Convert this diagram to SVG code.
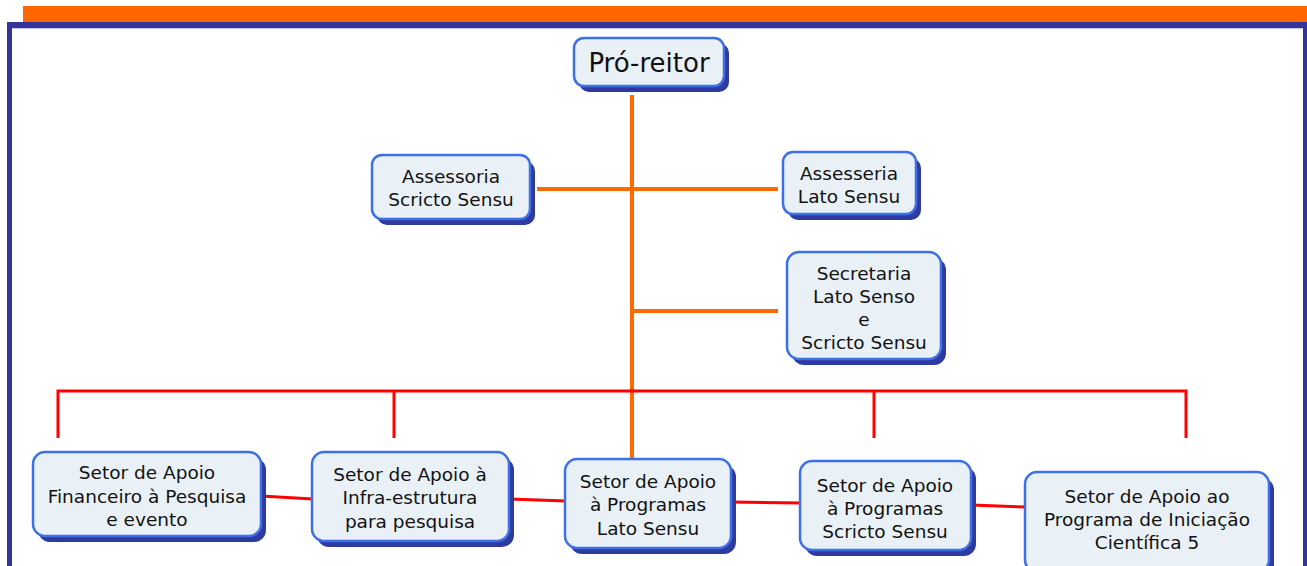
<svg xmlns="http://www.w3.org/2000/svg" width="1307" height="566" viewBox="0 0 1307 566">
<style>
.box{fill:#eaf1f6;stroke:#3d6fe6;stroke-width:2.5}
.sh{fill:#2f3a9f}
.t{font-family:"DejaVu Sans",Verdana,sans-serif;font-size:18.5px;fill:#111;text-anchor:middle;dominant-baseline:central}
.or{stroke:#ff6a00;stroke-width:4;fill:none}
.rd{stroke:#ff0000;stroke-width:3;fill:none}
</style>
<rect width="1307" height="566" fill="#ffffff"/>
<rect x="23" y="6" width="1284" height="16" fill="#ff6600"/>
<rect x="7" y="22" width="1300" height="6" fill="#35349a"/>
<rect x="7" y="22" width="5" height="544" fill="#35349a"/>
<rect x="1303" y="22" width="4" height="544" fill="#35349a"/>
<line x1="12" y1="28.5" x2="1303" y2="28.5" stroke="#c6c6e6" stroke-width="1"/>
<g id="connectors">
<line class="or" x1="632" y1="95" x2="632" y2="458"/>
<line class="or" x1="537" y1="189" x2="778" y2="189"/>
<line class="or" x1="632" y1="311" x2="778" y2="311"/>
<polyline class="rd" points="58,438 58,391 1186,391 1186,438"/>
<line class="rd" x1="394" y1="391" x2="394" y2="438"/>
<line class="rd" x1="874" y1="391" x2="874" y2="438"/>
<line class="rd" x1="261" y1="496" x2="313" y2="499"/>
<line class="rd" x1="509" y1="499" x2="566" y2="501"/>
<line class="rd" x1="731" y1="502" x2="801" y2="503"/>
<line class="rd" x1="971" y1="505" x2="1026" y2="507"/>
</g>
<g id="n-proreitor">
<rect class="sh" x="579" y="43" width="150" height="49" rx="10"/>
<rect class="box" x="574" y="38" width="150" height="48" rx="10"/>
<text class="t" x="649" y="63" style="font-size:26px">Pró-reitor</text>
</g>
<g id="n-assessoria-scricto">
<rect class="sh" x="377" y="161" width="158" height="64" rx="10"/>
<rect class="box" x="372" y="155" width="158" height="64" rx="10"/>
<text class="t" x="451" y="176">Assessoria</text>
<text class="t" x="451" y="199">Scricto Sensu</text>
</g>
<g id="n-assesseria-lato">
<rect class="sh" x="788" y="158" width="133" height="62" rx="10"/>
<rect class="box" x="783" y="152" width="133" height="62" rx="10"/>
<text class="t" x="849" y="173">Assesseria</text>
<text class="t" x="849" y="196">Lato Sensu</text>
</g>
<g id="n-secretaria">
<rect class="sh" x="792" y="258" width="154" height="107" rx="12"/>
<rect class="box" x="787" y="252" width="154" height="107" rx="12"/>
<text class="t" x="864" y="273">Secretaria</text>
<text class="t" x="864" y="296">Lato Senso</text>
<text class="t" x="864" y="319">e</text>
<text class="t" x="864" y="342">Scricto Sensu</text>
</g>
<g id="n-financeiro">
<rect class="sh" x="38" y="458" width="228" height="84" rx="12"/>
<rect class="box" x="33" y="452" width="228" height="84" rx="12"/>
<text class="t" x="147" y="472">Setor de Apoio</text>
<text class="t" x="147" y="496">Financeiro à Pesquisa</text>
<text class="t" x="147" y="519">e evento</text>
</g>
<g id="n-infra">
<rect class="sh" x="317" y="458" width="197" height="89" rx="12"/>
<rect class="box" x="312" y="452" width="197" height="89" rx="12"/>
<text class="t" x="410" y="474">Setor de Apoio à</text>
<text class="t" x="410" y="497">Infra-estrutura</text>
<text class="t" x="410" y="521">para pesquisa</text>
</g>
<g id="n-lato">
<rect class="sh" x="570" y="465" width="166" height="89" rx="12"/>
<rect class="box" x="565" y="459" width="166" height="89" rx="12"/>
<text class="t" x="648" y="481">Setor de Apoio</text>
<text class="t" x="648" y="504">à Programas</text>
<text class="t" x="648" y="528">Lato Sensu</text>
</g>
<g id="n-scricto">
<rect class="sh" x="805" y="467" width="171" height="89" rx="12"/>
<rect class="box" x="800" y="461" width="171" height="89" rx="12"/>
<text class="t" x="885" y="485">Setor de Apoio</text>
<text class="t" x="885" y="508">à Programas</text>
<text class="t" x="885" y="531">Scricto Sensu</text>
</g>
<g id="n-iniciacao">
<rect class="sh" x="1030" y="478" width="244" height="100" rx="12"/>
<rect class="box" x="1025" y="472" width="244" height="100" rx="12"/>
<text class="t" x="1147" y="496">Setor de Apoio ao</text>
<text class="t" x="1147" y="519">Programa de Iniciação</text>
<text class="t" x="1147" y="542">Científica 5</text>
</g>
</svg>
